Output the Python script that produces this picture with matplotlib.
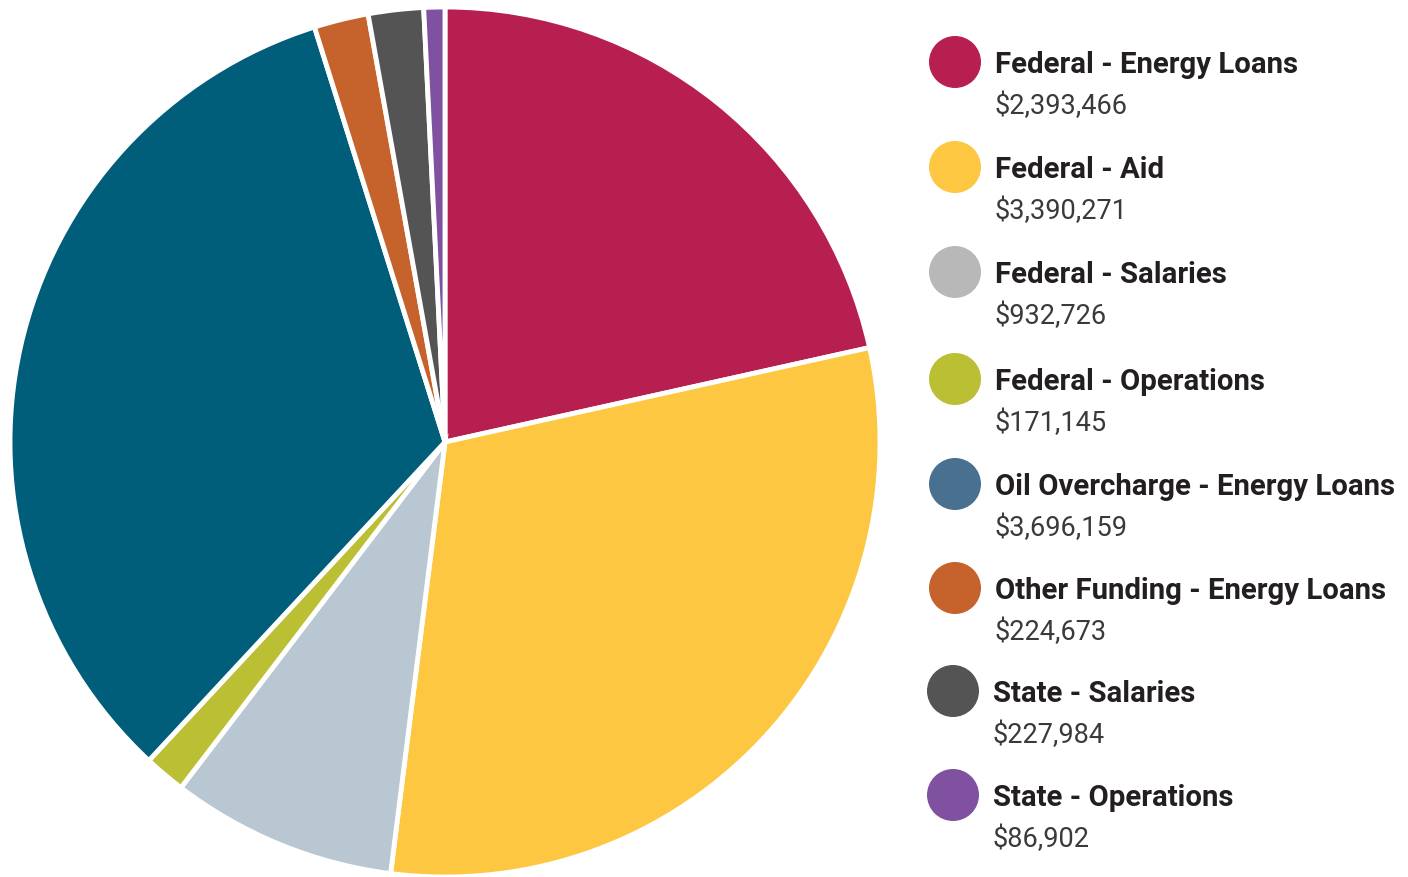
import matplotlib
matplotlib.use("Agg")
import matplotlib.pyplot as plt
from matplotlib.patches import Circle

labels = ["Federal - Energy Loans", "Federal - Aid", "Federal - Salaries",
          "Federal - Operations", "Oil Overcharge - Energy Loans",
          "Other Funding - Energy Loans", "State - Salaries", "State - Operations"]
values = [2393466, 3390271, 932726, 171145, 3696159, 224673, 227984, 86902]
pie_colors = ["#b81f51", "#fdc742", "#b8c7d2", "#bbbf33", "#005e7a",
              "#c6622b", "#545454", "#7f51a0"]
legend_colors = ["#b81f51", "#fdc742", "#b8b8b8", "#bbbf33", "#4a7090",
                 "#c6622b", "#545454", "#7f51a0"]

W, H = 1408, 878
fig = plt.figure(figsize=(W / 100, H / 100), dpi=100)

cx, cy, r = 445, 443, 435
ax = fig.add_axes([(cx - r) / W, (H - cy - r) / H, 2 * r / W, 2 * r / H])
ax.pie(values, colors=pie_colors, startangle=90, counterclock=False,
       wedgeprops=dict(edgecolor="white", linewidth=3.5, joinstyle="miter"))
ax.set_xlim(-1, 1)
ax.set_ylim(-1, 1)
ax.set_aspect("auto")
ax.axis("off")

lg = fig.add_axes([0, 0, 1, 1])
lg.set_xlim(0, W)
lg.set_ylim(H, 0)
lg.axis("off")

row_y = [63, 168, 273, 380, 485, 589, 692, 796]
row_x = [955, 955, 955, 955, 955, 955, 953, 953]
for lab, val, col, y, x in zip(labels, values, legend_colors, row_y, row_x):
    lg.add_patch(Circle((x, y), 26, color=col, lw=0))
    lg.text(x + 40, y + 2, lab, fontsize=21.2, fontweight="bold", family="Roboto",
            color="#231f20", va="center", ha="left")
    lg.text(x + 40, y + 43, f"${val:,}", fontsize=19.5, fontweight="normal",
            family="Roboto", color="#3a3a3a", va="center", ha="left")

fig.savefig("out.png", dpi=100, facecolor="white")
